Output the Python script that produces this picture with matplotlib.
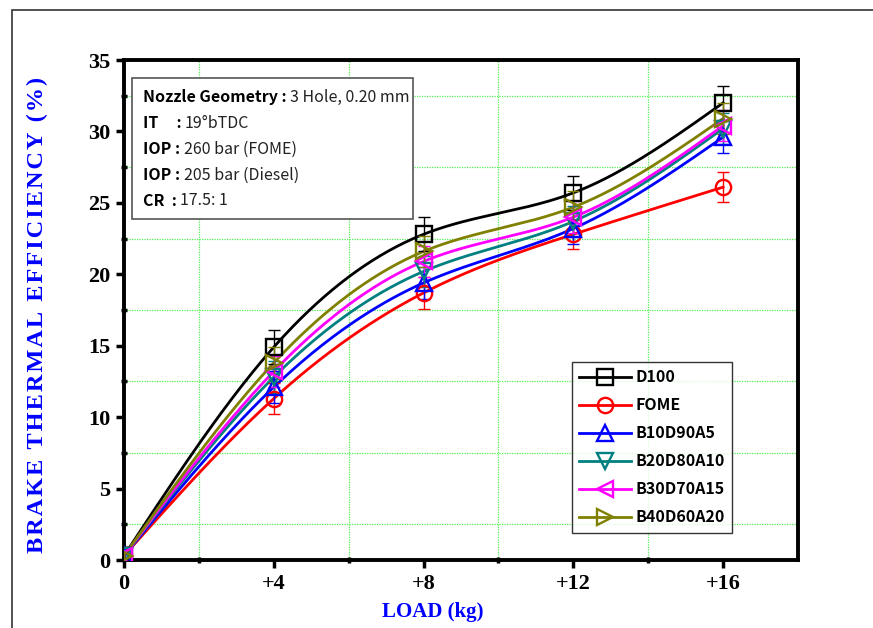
import numpy as np
import matplotlib
matplotlib.use("Agg")
import matplotlib.pyplot as plt
from matplotlib.patches import Rectangle
from matplotlib.lines import Line2D

# Brake thermal efficiency vs engine load
load = [0, 4, 8, 12, 16]
load_labels = ["0", "+4", "+8", "+12", "+16"]

d100 = [0.3, 14.9, 22.8, 25.7, 32.0]
fome = [0.3, 11.3, 18.7, 22.8, 26.1]
b10d90a5 = [0.3, 12.1, 19.4, 23.2, 29.6]
b20d80a10 = [0.3, 12.8, 20.2, 23.7, 30.2]
b30d70a15 = [0.3, 13.2, 20.9, 24.0, 30.4]
b40d60a20 = [0.3, 13.8, 21.6, 24.7, 30.9]

d100_err = [0.6, 1.2, 1.2, 1.2, 1.2]
fome_err = [0.6, 1.1, 1.1, 1.0, 1.05]
b10_err = [0.6, 1.1, 1.1, 1.1, 1.1]
b20_err = [0.6, 1.1, 1.1, 1.1, 1.1]
b30_err = [0.6, 1.1, 1.1, 1.1, 1.1]
b40_err = [0.6, 1.1, 1.1, 1.1, 1.1]

series = [
    ("D100", d100, d100_err, "black", "s"),
    ("FOME", fome, fome_err, "#ff0000", "o"),
    ("B10D90A5", b10d90a5, b10_err, "#0000ff", "^"),
    ("B20D80A10", b20d80a10, b20_err, "#008080", "v"),
    ("B30D70A15", b30d70a15, b30_err, "#ff00ff", "<"),
    ("B40D60A20", b40d60a20, b40_err, "#808000", ">"),
]


def natural_spline(x, y, n=300):
    """Natural cubic spline through the given points (for a smooth trace)."""
    x = np.asarray(x, float)
    y = np.asarray(y, float)
    k = len(x)
    h = np.diff(x)
    A = np.zeros((k, k))
    b = np.zeros(k)
    A[0, 0] = A[-1, -1] = 1
    for i in range(1, k - 1):
        A[i, i - 1] = h[i - 1]
        A[i, i] = 2 * (h[i - 1] + h[i])
        A[i, i + 1] = h[i]
        b[i] = 6 * ((y[i + 1] - y[i]) / h[i] - (y[i] - y[i - 1]) / h[i - 1])
    m = np.linalg.solve(A, b)
    xs = np.linspace(x[0], x[-1], n)
    idx = np.clip(np.searchsorted(x, xs) - 1, 0, k - 2)
    x0, x1 = x[idx], x[idx + 1]
    hh = x1 - x0
    t0, t1 = x1 - xs, xs - x0
    ys = (m[idx] * t0 ** 3 + m[idx + 1] * t1 ** 3) / (6 * hh) \
        + (y[idx] / hh - m[idx] * hh / 6) * t0 \
        + (y[idx + 1] / hh - m[idx + 1] * hh / 6) * t1
    return xs, ys


fig = plt.figure(figsize=(8.73, 6.28), dpi=100)
ax = fig.add_axes([124 / 873, 1 - 560 / 628, 674 / 873, 500 / 628])

# page frame around the figure
fig.patches.append(Rectangle((12 / 873, -0.1), 1.2, 1 - 10 / 628 + 0.1,
                             transform=fig.transFigure, fill=False,
                             edgecolor="#333333", linewidth=1.2))

handles = []
for name, vals, err, color, mk in series:
    xs, ys = natural_spline(load, vals)
    ax.plot(xs, ys, color=color, linewidth=2.0, zorder=3)
    ax.errorbar(load, vals, yerr=err, fmt="none", ecolor=color,
                elinewidth=1.0, capsize=4, capthick=1.0, zorder=4)
    ax.plot(load, vals, linestyle="none", marker=mk, markersize=11,
            markerfacecolor="none", markeredgecolor=color,
            markeredgewidth=1.7, zorder=5)
    handles.append(Line2D([], [], color=color, linewidth=2.0, marker=mk,
                          markersize=11, markerfacecolor="none",
                          markeredgewidth=1.7, label=name))

ax.set_xlim(0, 18)
ax.set_ylim(0, 35)
ax.set_xticks(load)
ax.set_xticklabels(load_labels)
ax.set_xticks([2, 6, 10, 14], minor=True)
ax.set_yticks(np.arange(0, 36, 5))
ax.set_yticks(np.arange(2.5, 35, 5), minor=True)

# grid only on the minor positions
for gx in [2, 6, 10, 14]:
    ax.axvline(gx, color="#55ee55", linestyle=(0, (1, 1)), linewidth=0.9, zorder=1)
for gy in np.arange(2.5, 35, 5):
    ax.axhline(gy, color="#55ee55", linestyle=(0, (1, 1)), linewidth=0.9, zorder=1)

for side in ["left", "bottom", "right", "top"]:
    ax.spines[side].set_linewidth(2.8)
    ax.spines[side].set_color("black")

ax.tick_params(which="major", direction="out", length=6, width=2.5,
               labelsize=16, pad=4)
ax.tick_params(which="minor", direction="inout", length=5, width=2.5)
for lab in ax.get_xticklabels() + ax.get_yticklabels():
    lab.set_fontfamily("Liberation Serif")
    lab.set_fontweight("bold")

ax.set_xlabel("LOAD (kg)", fontsize=15, fontweight="bold", color="#0000ff",
              family="Liberation Serif", labelpad=2)
ax.xaxis.set_label_coords(0.458, -0.085)
ylabel = "\u200a".join("BRAKE THERMAL EFFICIENCY (%)")
ax.set_ylabel(ylabel, fontsize=17.5, fontweight="bold", color="#0000ff",
              family=["Liberation Serif", "DejaVu Serif"])
ax.yaxis.set_label_coords(-0.112, 0.49)

# engine settings box
box = Rectangle((0.012, 0.682), 0.417, 0.282, transform=ax.transAxes,
                facecolor="white", edgecolor="#555555", linewidth=1.2, zorder=6)
ax.add_patch(box)
box_lines = [
    ("Nozzle Geometry : ", "3 Hole, 0.20 mm"),
    ("IT     : ", "19°bTDC"),
    ("IOP : ", "260 bar (FOME)"),
    ("IOP : ", "205 bar (Diesel)"),
    ("CR  : ", "17.5: 1"),
]
fam = ["Noto Sans CJK JP", "DejaVu Sans"]
for i, (bold, normal) in enumerate(box_lines):
    yy = 0.926 - i * 0.052
    t = ax.text(0.028, yy, bold, transform=ax.transAxes, fontsize=11.5,
                fontweight="bold", family=fam, va="center", zorder=7)
    fig.canvas.draw()
    bb = t.get_window_extent().transformed(ax.transAxes.inverted())
    ax.text(bb.x1, yy, normal, transform=ax.transAxes, fontsize=11.5,
            family=fam, va="center", zorder=7, color="#222222")

leg = ax.legend(handles=handles, loc="lower left",
                bbox_to_anchor=(0.665, 0.055), frameon=True, fancybox=False,
                edgecolor="black", handlelength=3.2, handletextpad=0.3,
                labelspacing=0.75, borderpad=0.45, borderaxespad=0,
                prop={"family": ["Noto Sans CJK JP", "DejaVu Sans"],
                      "weight": "bold", "size": 11.5})
leg.get_frame().set_linewidth(1.0)
leg.set_zorder(8)

fig.savefig("out.png", dpi=100)
